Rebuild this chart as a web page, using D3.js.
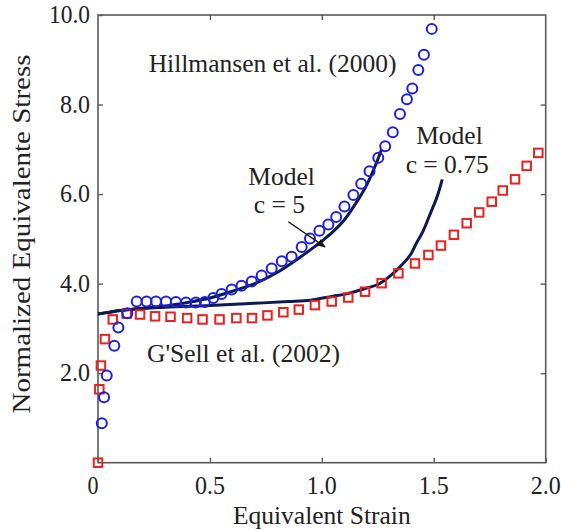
<!DOCTYPE html>
<html>
<head>
<meta charset="utf-8">
<script src="https://cdn.jsdelivr.net/npm/d3@7"></script>
<style>
body { margin: 0; background: #fff; }
#drawing-area { width: 561px; height: 530px; }
text { font-family: "Liberation Serif", "Times New Roman", serif; fill: #222; }
</style>
</head>
<body>
<div id="drawing-area"></div>
<script>
// Hillmansen et al. (2000), circles
var hill_strain = [0.017, 0.027, 0.039, 0.073, 0.091, 0.131, 0.173, 0.217, 0.259, 0.304, 0.348, 0.393, 0.437, 0.477,
    0.515, 0.552, 0.597, 0.641, 0.687, 0.731, 0.776, 0.821, 0.865, 0.910, 0.947, 0.989, 1.029, 1.064, 1.101,
    1.141, 1.176, 1.213, 1.252, 1.283, 1.317, 1.349, 1.380, 1.404, 1.431, 1.456, 1.491];
var hill_stress = [0.88, 1.46, 1.95, 2.61, 3.02, 3.34, 3.60, 3.60, 3.60, 3.60, 3.59, 3.58, 3.58, 3.59,
    3.68, 3.77, 3.87, 3.95, 4.05, 4.18, 4.34, 4.50, 4.60, 4.82, 5.01, 5.18, 5.32, 5.49, 5.72,
    5.98, 6.23, 6.51, 6.81, 7.07, 7.38, 7.79, 8.12, 8.36, 8.77, 9.11, 9.69];

// G'Sell et al. (2002), squares
var gsell_strain = [0.000, 0.006, 0.013, 0.031, 0.066, 0.128, 0.188, 0.255, 0.324, 0.398, 0.467, 0.543, 0.618,
    0.688, 0.757, 0.828, 0.897, 0.969, 1.044, 1.118, 1.193, 1.267, 1.342, 1.416, 1.476, 1.532, 1.590,
    1.647, 1.703, 1.759, 1.808, 1.863, 1.915, 1.967];
var gsell_stress = [0.00, 1.64, 2.17, 2.76, 3.20, 3.33, 3.31, 3.27, 3.26, 3.23, 3.20, 3.20, 3.23,
    3.23, 3.29, 3.36, 3.42, 3.52, 3.60, 3.69, 3.82, 4.01, 4.23, 4.45, 4.64, 4.85, 5.09,
    5.35, 5.59, 5.83, 6.08, 6.33, 6.63, 6.92];

// model c = 5
var model5_strain = [0, 0.1, 0.2, 0.3, 0.4, 0.5, 0.6, 0.7, 0.8, 0.9, 0.95, 1.0, 1.05, 1.1, 1.15, 1.2, 1.24, 1.267];
var model5_stress = [3.32, 3.40, 3.45, 3.50, 3.58, 3.68, 3.83, 4.00, 4.25, 4.58, 4.76, 4.95, 5.16, 5.42, 5.78, 6.20, 6.65, 7.00];

// model c = 0.75
var model075_strain = [0, 0.1, 0.3, 0.5, 0.7, 0.85, 0.95, 1.05, 1.1, 1.2, 1.25, 1.3, 1.35, 1.4, 1.42, 1.45, 1.485, 1.52, 1.538];
var model075_stress = [3.32, 3.40, 3.47, 3.51, 3.56, 3.60, 3.63, 3.72, 3.76, 3.90, 3.98, 4.15, 4.38, 4.68, 4.88, 5.15, 5.57, 6.02, 6.33];

var x_ticks = [0, 0.5, 1.0, 1.5, 2.0];
var x_tick_labels = ["0", "0.5", "1.0", "1.5", "2.0"];
var y_ticks = [2, 4, 6, 8, 10];
var y_tick_labels = ["2.0", "4.0", "6.0", "8.0", "10.0"];

function zip(xs, ys) {
    var out = [];
    for (var i = 0; i < xs.length; i++)
        out.push({ x: xs[i], y: ys[i] });
    return out;
}

// narrow digits like the original figure
function label_width(s) {
    var w = 0;
    for (var i = 0; i < s.length; i++)
        w += (s[i] == ".") ? 8 : 11;
    return w;
}

function draw_chart() {
    var sx = 561, sy = 530;
    var svg = d3.select('#drawing-area').append('svg').attr('width', sx).attr('height', sy);

    var left = 98, right = 545.7, top = 15, bottom = 462.7;
    var x = d3.scaleLinear().domain([0, 2]).range([left, right]);
    var y = d3.scaleLinear().domain([0, 10]).range([bottom, top]);

    var axis_col = "#5a5a5a";

    // frame
    svg.append("rect")
        .attr("x", left).attr("y", top)
        .attr("width", right - left).attr("height", bottom - top)
        .attr("fill", "none").attr("stroke", axis_col).attr("stroke-width", 1.6);

    // ticks on all four sides, pointing in
    var gx = svg.append("g").attr("transform", "translate(0," + bottom + ")")
        .call(d3.axisBottom(x).tickValues(x_ticks).tickSize(-5).tickFormat(""));
    var gxt = svg.append("g").attr("transform", "translate(0," + top + ")")
        .call(d3.axisTop(x).tickValues(x_ticks.slice(1, 4)).tickSize(-5).tickFormat(""));
    var gy = svg.append("g").attr("transform", "translate(" + left + ",0)")
        .call(d3.axisLeft(y).tickValues(y_ticks).tickSize(-5).tickFormat(""));
    var gyr = svg.append("g").attr("transform", "translate(" + right + ",0)")
        .call(d3.axisRight(y).tickValues(y_ticks.slice(0, 4)).tickSize(-5).tickFormat(""));
    [gx, gxt, gy, gyr].forEach(function (g) {
        g.select(".domain").remove();
        g.selectAll("line").attr("stroke", axis_col).attr("stroke-width", 1.4);
    });

    // tick labels
    svg.append("g").selectAll("text")
        .data(x_ticks).enter().append("text")
        .attr("x", function (d, i) { return x(d) - (i == 0 ? 5 : 0); })
        .attr("y", 494)
        .attr("text-anchor", "middle")
        .style("font-size", "25px")
        .attr("textLength", function (d, i) { return label_width(x_tick_labels[i]); })
        .attr("lengthAdjust", "spacingAndGlyphs")
        .text(function (d, i) { return x_tick_labels[i]; });

    svg.append("g").selectAll("text")
        .data(y_ticks).enter().append("text")
        .attr("x", left - 8)
        .attr("y", function (d) { return y(d) + 8; })
        .attr("text-anchor", "end")
        .style("font-size", "25px")
        .attr("textLength", function (d, i) { return label_width(y_tick_labels[i]); })
        .attr("lengthAdjust", "spacingAndGlyphs")
        .text(function (d, i) { return y_tick_labels[i]; });

    // axis titles
    svg.append("text")
        .attr("x", (left + right) / 2).attr("y", 524)
        .attr("text-anchor", "middle").style("font-size", "25.5px")
        .text("Equivalent Strain");
    svg.append("text")
        .attr("transform", "translate(30,234) rotate(-90) scale(1,0.88)")
        .attr("text-anchor", "middle").style("font-size", "29px")
        .text("Normalized Equivalente Stress");

    // model curves
    var line = d3.line()
        .x(function (d) { return x(d.x); })
        .y(function (d) { return y(d.y); })
        .curve(d3.curveMonotoneX);

    svg.append("path").datum(zip(model075_strain, model075_stress))
        .attr("d", line).attr("fill", "none")
        .attr("stroke", "#0b1b4d").attr("stroke-width", 3);
    svg.append("path").datum(zip(model5_strain, model5_stress))
        .attr("d", line).attr("fill", "none")
        .attr("stroke", "#0b1b4d").attr("stroke-width", 3);

    // data: G'Sell squares
    var sq = 8.5;
    svg.append("g").selectAll("rect")
        .data(zip(gsell_strain, gsell_stress))
        .enter().append("rect")
        .attr("x", function (d) { return x(d.x) - sq / 2; })
        .attr("y", function (d) { return y(d.y) - sq / 2; })
        .attr("width", sq).attr("height", sq)
        .attr("fill", "none").attr("stroke", "#e8221e").attr("stroke-width", 2);

    // data: Hillmansen circles
    svg.append("g").selectAll("circle")
        .data(zip(hill_strain, hill_stress))
        .enter().append("circle")
        .attr("cx", function (d) { return x(d.x); })
        .attr("cy", function (d) { return y(d.y); })
        .attr("r", 5)
        .attr("fill", "none").attr("stroke", "#1f1fe0").attr("stroke-width", 2);

    // annotations
    var notes = [
        { t: "Hillmansen et al. (2000)", x: 0.78, y: 8.72 },
        { t: "Model", x: 0.82, y: 6.2 },
        { t: "c = 5", x: 0.81, y: 5.58 },
        { t: "Model", x: 1.57, y: 7.12 },
        { t: "c = 0.75", x: 1.56, y: 6.48 },
        { t: "G'Sell et al. (2002)", x: 0.65, y: 2.25 }
    ];
    svg.append("g").selectAll("text")
        .data(notes).enter().append("text")
        .attr("x", function (d) { return x(d.x); })
        .attr("y", function (d) { return y(d.y); })
        .attr("text-anchor", "middle").style("font-size", "25.5px")
        .text(function (d) { return d.t; });

    // arrow from "c = 5" to the model curve
    svg.append("defs").append("marker")
        .attr("id", "arr").attr("viewBox", "0 0 10 10")
        .attr("refX", 9).attr("refY", 5)
        .attr("markerWidth", 9).attr("markerHeight", 9)
        .attr("markerUnits", "userSpaceOnUse")
        .attr("orient", "auto")
        .append("path").attr("d", "M0,1 L10,5 L0,9 Z").attr("fill", "#111");
    svg.append("line")
        .attr("x1", x(0.85)).attr("y1", y(5.38))
        .attr("x2", x(1.014)).attr("y2", y(4.82))
        .attr("stroke", "#111").attr("stroke-width", 1.3)
        .attr("marker-end", "url(#arr)");
}

draw_chart();
</script>
</body>
</html>
